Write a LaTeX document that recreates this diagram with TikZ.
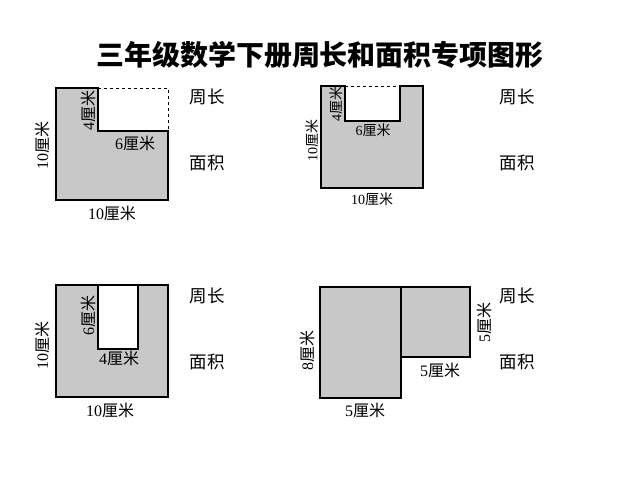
\documentclass[tikz,border=0pt]{standalone}
\usepackage{fontspec}
\newfontfamily\cjk{Noto Sans CJK SC}
\setmainfont{Liberation Serif}
\newcommand{\cm}[1]{#1{\cjk 厘米}}
\definecolor{shade}{HTML}{C8C8C8}
\tikzset{
  figbox/.style={draw=black, fill=shade, line width=1.2pt},
  hole/.style={draw=black, fill=white, line width=1.2pt},
  lbl/.style={font=\fontsize{16}{16}\selectfont, inner sep=1pt},
  ask/.style={font=\fontsize{17.5}{17.5}\selectfont\cjk}
}
\begin{document}
\begin{tikzpicture}[x=1pt,y=-1pt]
  \useasboundingbox (0,0) rectangle (638,480);

  % title
  \node[font=\fontsize{28}{28}\selectfont\cjk\bfseries] (title) at (320,55) {三年级数学下册周长和面积专项图形};

  % shape A: corner cut
  \draw[figbox] (56,88) -- (98,88) -- (98,131) -- (168,131) -- (168,200) -- (56,200) -- cycle;
  \draw[dashed, line width=0.8pt] (98,88) -- (168,88) -- (168,131);
  \node[lbl, rotate=90] (a4) at (88,110) {\cm{4}};
  \node[lbl] (a6) at (135,143) {\cm{6}};
  \node[lbl, rotate=90] (a10l) at (42,145) {\cm{10}};
  \node[lbl] (a10b) at (112,213) {\cm{10}};
  \node[ask] (aper) at (207,97) {周长};
  \node[ask] (aarea) at (207,163) {面积};

  % shape B: notch on top
  \draw[figbox] (321,86) rectangle (423,188);
  \draw[hole] (345,86) -- (345,121) -- (400,121) -- (400,86);
  \draw[white, line width=1.4pt] (346,86) -- (399,86);
  \draw[dashed, line width=0.8pt] (345,86) -- (400,86);
  \node[lbl, rotate=90, font=\fontsize{14}{14}\selectfont] (b4) at (336,104) {\cm{4}};
  \node[lbl, font=\fontsize{14}{14}\selectfont] (b6) at (373,130) {\cm{6}};
  \node[lbl, rotate=90, font=\fontsize{14}{14}\selectfont] (b10l) at (312,140) {\cm{10}};
  \node[lbl, font=\fontsize{14}{14}\selectfont] (b10b) at (372,199) {\cm{10}};
  \node[ask] (bper) at (517,97) {周长};
  \node[ask] (barea) at (517,163) {面积};

  % shape C: slot
  \draw[figbox] (56,285) rectangle (168,397);
  \draw[hole] (98,285) rectangle (138,349);
  \node[lbl, rotate=90] (c6) at (88,315) {\cm{6}};
  \node[lbl] (c4) at (119,358) {\cm{4}};
  \node[lbl, rotate=90] (c10l) at (42,345) {\cm{10}};
  \node[lbl] (c10b) at (110,410) {\cm{10}};
  \node[ask] (cper) at (207,296) {周长};
  \node[ask] (carea) at (207,362) {面积};

  % shape D: two rectangles
  \draw[figbox] (320,287) rectangle (401,398);
  \draw[figbox] (401,287) rectangle (470,357);
  \node[lbl, rotate=90] (d8) at (307,350) {\cm{8}};
  \node[lbl, rotate=90] (d5r) at (484,322) {\cm{5}};
  \node[lbl] (d5m) at (440,370) {\cm{5}};
  \node[lbl] (d5b) at (365,410) {\cm{5}};
  \node[ask] (dper) at (517,296) {周长};
  \node[ask] (darea) at (517,362) {面积};
\end{tikzpicture}
\end{document}
